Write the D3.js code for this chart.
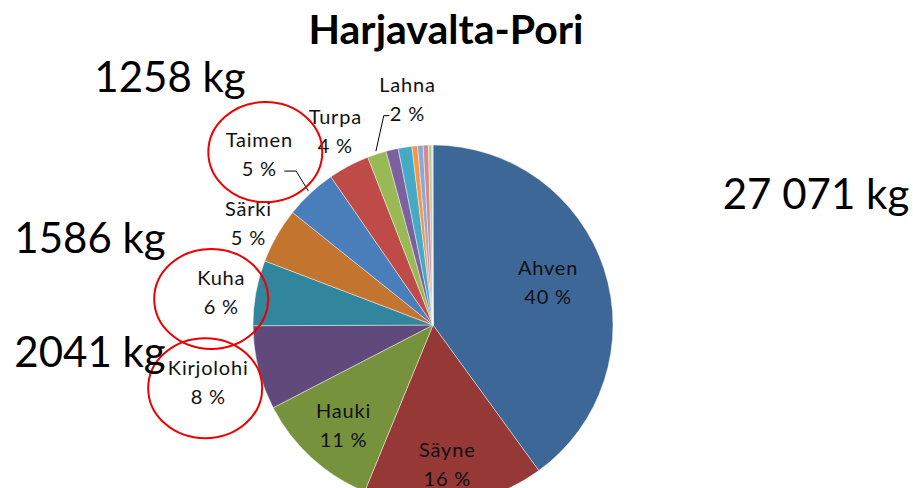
<!DOCTYPE html>
<html>
<head>
<meta charset="utf-8">
<script src="https://cdn.jsdelivr.net/npm/d3@7"></script>
<style>
  html, body { margin: 0; padding: 0; background: #fff; }
  svg { display: block; font-family: Lato, "Open Sans", sans-serif; }
</style>
</head>
<body>
<div id="chart"></div>
<script>
// catch by species, kg (pie goes clockwise from 12 o'clock)
const categories = ["Ahven", "Säyne", "Hauki", "Kirjolohi", "Kuha", "Särki", "Taimen", "Turpa", "Lahna",
    "Made", "Siika", "Kiiski", "Lohi", "Kuore", "Salakka", "Ankerias", "Muut"];
const catchKg = [10828, 4386, 3031, 2041, 1586, 1342, 1258, 1002, 460,
    298, 333, 135, 135, 128, 81, 17, 10];
const sliceColors = ["#3c6797", "#953836", "#77923c", "#604a7b", "#31859c", "#c3742f", "#4a7ebb", "#be4b48", "#98b954",
    "#7d60a0", "#46aac5", "#f79646", "#8ba8d6", "#d4898a", "#b7cd8f", "#a796c2", "#8ed0e2"];

// only these slices get a data label
const labelled = ["Ahven", "Säyne", "Hauki", "Kirjolohi", "Kuha", "Särki", "Taimen", "Turpa", "Lahna"];
// species circled and called out with their kg
const highlighted = ["Taimen", "Kuha", "Kirjolohi"];

const chartTitle = "Harjavalta-Pori";

let width = 913, height = 488;
let cx = 433, cy = 325, radius = 180;

// label placement: [radius factor, angle shift in degrees]
let labelLayout = {
    "Ahven": [0.68, -2], "Säyne": [0.78, 1], "Hauki": [0.75, -1],
    "Kirjolohi": [1.29, -0.7], "Kuha": [1.19, -1.7], "Särki": [1.17, -1],
    "Taimen": [1.35, -2.7], "Turpa": [1.2, 1], "Lahna": [1.26, 11.7]
};
let leaders = ["Taimen", "Lahna"];
// circle offsets from label centre and callout text spots
let circleOffset = { "Taimen": [6, -3], "Kuha": [-10, 6], "Kirjolohi": [-3, 5] };
let calloutSpot = { "Taimen": [170, 92], "Kuha": [90, 253], "Kirjolohi": [90, 367] };

let svg = d3.select("#chart")
    .append("svg")
    .attr("width", width)
    .attr("height", height);

svg.append("text")
    .attr("x", 446)
    .attr("y", 44)
    .attr("text-anchor", "middle")
    .style("font-weight", "bold")
    .style("font-size", "41px")
    .text(chartTitle);

let data = categories.map(function (c, i) { return { name: c, kg: catchKg[i], color: sliceColors[i] }; });
let total = d3.sum(catchKg);

let pie = d3.pie().sort(null).value(function (d) { return d.kg; });
let arcs = pie(data);

let arc = d3.arc().innerRadius(0).outerRadius(radius);

let g = svg.append("g")
    .attr("transform", "translate(" + cx + "," + cy + ")");

g.selectAll("path.slice")
    .data(arcs)
    .enter()
    .append("path")
    .attr("class", "slice")
    .attr("d", arc)
    .attr("fill", function (d) { return d.data.color; })
    .attr("stroke", "rgba(255,255,255,0.55)")
    .attr("stroke-width", 0.8);

function polar(a, r) {
    return [r * Math.sin(a), -r * Math.cos(a)];
}

let pct = d3.format(".0f");
let labelArcs = arcs.filter(function (d) { return labelled.indexOf(d.data.name) >= 0; });

let labelPos = {};
labelArcs.forEach(function (d) {
    let lay = labelLayout[d.data.name];
    let mid = (d.startAngle + d.endAngle) / 2 + lay[1] * Math.PI / 180;
    labelPos[d.data.name] = polar(mid, radius * lay[0]);
});

let labels = g.selectAll("text.lbl")
    .data(labelArcs)
    .enter()
    .append("text")
    .attr("class", "lbl")
    .attr("text-anchor", "middle")
    .style("font-size", "20px")
    .style("letter-spacing", "0.8px")
    .attr("fill", "#111");

labels.append("tspan")
    .attr("x", function (d) { return labelPos[d.data.name][0]; })
    .attr("y", function (d) { return labelPos[d.data.name][1] - 8; })
    .text(function (d) { return d.data.name; });

labels.append("tspan")
    .attr("x", function (d) { return labelPos[d.data.name][0]; })
    .attr("y", function (d) { return labelPos[d.data.name][1] + 21; })
    .text(function (d) { return pct(d.data.kg / total * 100) + " %"; });

// leader lines
labelArcs.filter(function (d) { return leaders.indexOf(d.data.name) >= 0; }).forEach(function (d) {
    let mid = (d.startAngle + d.endAngle) / 2;
    let end = polar(mid, radius + 3);
    let lp = labelPos[d.data.name];
    let ly = lp[1] + 16;
    let ex = end[0] + 0.25 * (lp[0] - end[0]);
    let startX = lp[0] < end[0] ? lp[0] + 25 : lp[0] - 18;
    g.append("path")
        .attr("d", d3.line()([[startX, ly], [ex, ly], end]))
        .attr("fill", "none")
        .attr("stroke", "#000")
        .attr("stroke-width", 1);
});

// red circles round the highlighted labels
highlighted.forEach(function (name) {
    let lp = labelPos[name];
    let off = circleOffset[name];
    g.append("ellipse")
        .attr("cx", lp[0] + off[0])
        .attr("cy", lp[1] + off[1])
        .attr("rx", 57)
        .attr("ry", 50)
        .attr("fill", "none")
        .attr("stroke", "#ee0000")
        .attr("stroke-width", 2);
});

// kg callouts
let bigFmt = function (v) {
    return v >= 10000 ? d3.format(",")(v).replace(/,/g, " ") : String(v);
};

highlighted.forEach(function (name) {
    let spot = calloutSpot[name];
    svg.append("text")
        .attr("x", spot[0])
        .attr("y", spot[1])
        .attr("text-anchor", "middle")
        .style("font-size", "42px")
        .text(bigFmt(catchKg[categories.indexOf(name)]) + " kg");
});

svg.append("text")
    .attr("x", 816)
    .attr("y", 209)
    .attr("text-anchor", "middle")
    .style("font-size", "42px")
    .text(bigFmt(total) + " kg");
</script>
</body>
</html>
